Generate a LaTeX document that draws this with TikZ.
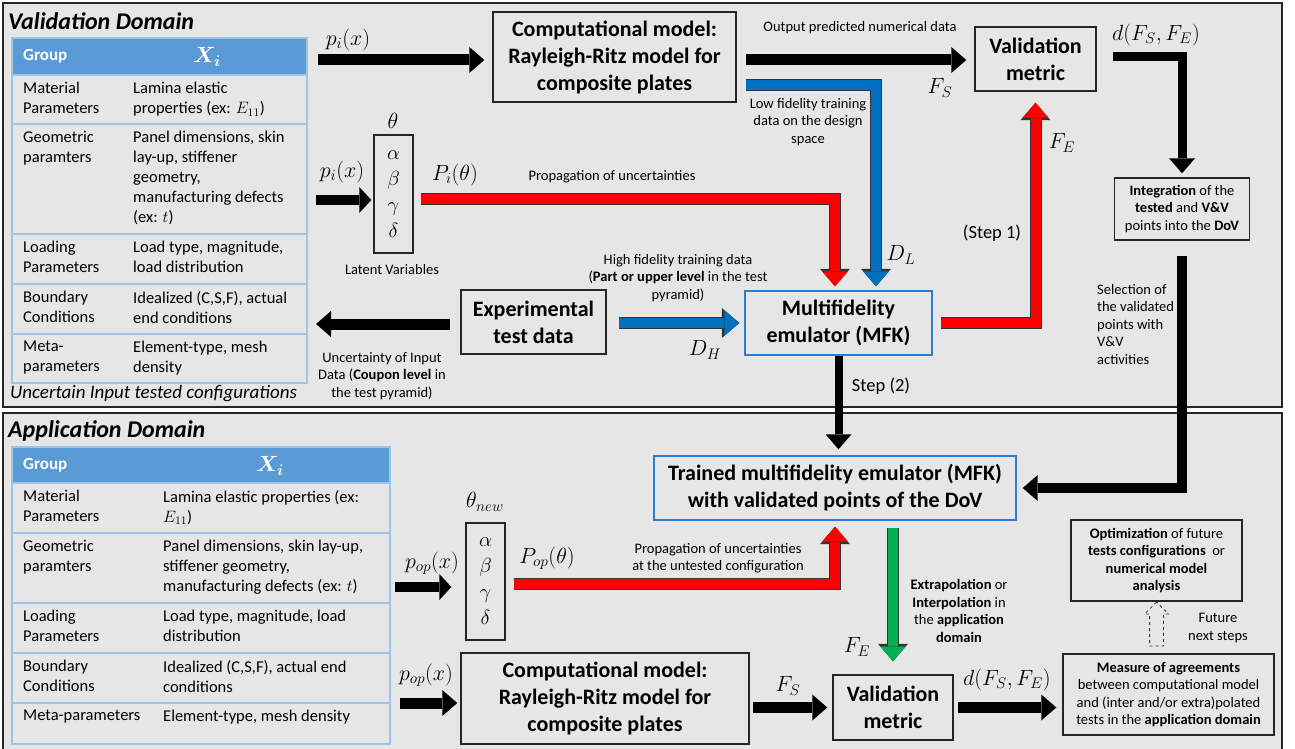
\RequirePackage{fix-cm}
\documentclass[tikz,border=0pt]{standalone}
\usepackage{fontspec}
\setmainfont{Carlito}
\usepackage{amsmath,amssymb}
\usepackage{tikz}
\usetikzlibrary{positioning,arrows.meta,shapes.arrows,calc}
\definecolor{panel}{HTML}{E7E6E6}
\definecolor{hdrblue}{HTML}{5B9BD5}
\definecolor{gridblue}{HTML}{9DC3E6}
\definecolor{boxblue}{HTML}{2E7DD1}
\definecolor{flowblue}{HTML}{0070C0}
\definecolor{flowred}{HTML}{FF0000}
\definecolor{flowgreen}{HTML}{00B050}
\tikzset{
  frm/.style={draw=black!85,line width=1.6pt,fill=panel},
  box/.style={rectangle,draw=black!85,line width=1.4pt,align=center,inner sep=2pt},
  boxb/.style={box,draw=boxblue},
  ttl/.style={font=\fontsize{22}{27}\selectfont\bfseries},
  dom/.style={anchor=west,inner sep=0pt,font=\fontsize{24}{28}\selectfont\bfseries\itshape},
  note/.style={font=\fontsize{14.5}{17.5}\selectfont,align=center,inner sep=0pt},
  cell/.style={anchor=north west,inner sep=0pt,align=left,font=\fontsize{16.5}{20}\selectfont},
  hdr/.style={inner sep=0pt,text=white,font=\fontsize{17}{20}\selectfont\bfseries},
  mth/.style={font=\fontsize{22}{24}\selectfont,inner sep=0pt},
  greek/.style={box,font=\fontsize{20.5}{26}\selectfont,minimum width=39pt},
  tbl/.style={draw=gridblue,line width=1.1pt},
  fat/.style={line width=11pt,-{Triangle[length=15pt,width=26pt,line width=0pt]}},
  fatc/.style={line width=10pt,draw=#1,-{Triangle[length=15pt,width=26pt,line width=0pt]},
    preaction={draw=black!80,line width=12pt,-{Triangle[length=17.5pt,width=30pt,line width=0pt]}}},
  hollow/.style={single arrow,draw=black!80,dashed,line width=0.8pt,shape border rotate=90,
    inner sep=6.5pt,single arrow head extend=5pt},
}

\begin{document}
\begin{tikzpicture}[x=1pt,y=-1pt]
  \useasboundingbox[fill=white] (0,0) rectangle (1295,749);
  % the two domains
  \draw[frm] (3,3) rectangle (1282,407);
  \draw[frm] (3,413) rectangle (1282,752);
  \node[dom] (valdom) at (8,21) {Validation Domain};
  \node[dom] (appdom) at (8,431) {Application Domain};

  % ---- validation table
  \fill[hdrblue] (12,38) rectangle (307,75);
  \draw[tbl] (12,38) rectangle (307,383);
  \foreach \y in {75,124,234,284,334} \draw[tbl] (12,\y) -- (307,\y);
  \node[hdr,anchor=west] (grpa) at (23,56) {Group};
  \node[hdr,font=\fontsize{22}{22}\selectfont] (xia) at (207,57) {$\boldsymbol{X_i}$};
  \foreach \y/\ga/\gb [count=\k] in {
      75/{Material\\Parameters}/{Lamina elastic\\properties (ex: $E_{11}$)},
      124/{Geometric\\paramters}/{Panel dimensions, skin\\lay-up, stiffener\\geometry,\\manufacturing defects\\(ex: $t$)},
      234/{Loading\\Parameters}/{Load type, magnitude,\\load distribution},
      284/{Boundary\\Conditions}/{Idealized (C,S,F), actual\\end conditions},
      334/{Meta-\\parameters}/{Element-type, mesh\\density}} {
    \node[cell] (ga\k) at (23,\y+7) {\ga};
    \node[cell] (gb\k) at (133,\y+7) {\gb};
  }
  \node[anchor=west,inner sep=0pt,font=\fontsize{19}{22}\selectfont\itshape] (unc) at (10,394)
    {Uncertain Input tested configurations};

  % ---- validation flow
  \node[box,ttl,minimum width=243pt,minimum height=90pt] (cmtop) at (614.5,57)
    {Computational model:\\Rayleigh-Ritz model for\\composite plates};
  \node[box,ttl,minimum width=121pt,minimum height=64pt] (vmtop) at (1035.5,59) {Validation\\metric};
  \node[greek,minimum height=118pt] (thtop) at (393.5,194) {$\alpha$\\$\beta$\\$\gamma$\\$\delta$};
  \node[boxb,ttl,minimum width=187pt,minimum height=64pt] (mfk) at (838.5,323)
    {Multifidelity\\emulator (MFK)};
  \node[box,ttl,minimum width=145pt,minimum height=64pt] (exp) at (533.5,322)
    {Experimental\\test data};
  \node[box,note,inner sep=2pt,minimum width=135pt,minimum height=62pt] (integ) at (1182,209)
    {\textbf{Integration} of the\\\textbf{tested} and \textbf{V\&V}\\points into the \textbf{DoV}};

  \node[mth] (pia) at (348,40) {$p_i(x)$};
  \node[mth] (pib) at (342,172) {$p_i(x)$};
  \node[mth] (th) at (393,121) {$\theta$};
  \node[mth] (Pi) at (455,175) {$P_i(\theta)$};
  \node[mth] (fsa) at (940,88) {$F_S$};
  \node[mth] (dl) at (901,255) {$D_L$};
  \node[mth] (dh) at (705,350) {$D_H$};
  \node[mth] (fea) at (1062,143) {$F_E$};
  \node[mth] (dfa) at (1156,35) {$d(F_S,F_E)$};
  \node[note] (outp) at (860,28) {Output predicted numerical data};
  \node[note] (lowf) at (808,122) {Low fidelity training\\data on the design\\space};
  \node[note] (propa) at (612,177) {Propagation of uncertainties};
  \node[note] (latv) at (392,270) {Latent Variables};
  \node[note] (highf) at (678,278) {High fidelity training data\\(\textbf{Part or upper level} in the test\\pyramid)};
  \node[note] (uncd) at (382,376) {Uncertainty of Input\\Data (\textbf{Coupon level} in\\the test pyramid)};
  \node[note,font=\fontsize{18.5}{20}\selectfont] (st1) at (992,233) {(Step 1)};
  \node[note,font=\fontsize{18.5}{20}\selectfont] (st2) at (881,386) {Step (2)};
  \node[note,align=left,anchor=north west] (selv) at (1097,284)
    {Selection of\\the validated\\points with\\V\&V\\activities};

  \coordinate (pin) at (318,60);
  \draw[fat,shorten >=8pt] (pin) -- (pin -| cmtop.west);
  \draw[fat,shorten <=9pt,shorten >=8pt] (cmtop.east |- pin) -- (pin -| vmtop.west);
  \coordinate (lfk) at (876,85);
  \draw[fatc=flowblue,shorten <=9pt,shorten >=4pt] (cmtop.east |- lfk) -| (mfk.north -| lfk);
  \coordinate (ptk) at (835,199);
  \draw[fatc=flowred,shorten <=7pt,shorten >=4pt] (thtop.east |- ptk) -| (mfk.north -| ptk);
  \coordinate (pin2) at (316,200);
  \draw[fat,line width=10pt,-{Triangle[length=12pt,width=26pt,line width=0pt]},shorten >=2pt]
    (pin2) -- (pin2 -| thtop.west);
  \coordinate (uout) at (316,324);
  \draw[fat,shorten <=10pt] (exp.west |- uout) -- (uout);
  \draw[fatc=flowblue,shorten <=12pt,shorten >=5pt] (exp.east |- mfk) -- (mfk.west);
  \draw[fatc=flowred,shorten <=8pt,shorten >=11pt] (mfk.east) -| (vmtop.south);
  \coordinate (dk) at (1182,57);
  \draw[fat,line width=9pt,shorten <=16pt,shorten >=4pt] (vmtop.east |- dk) -| (integ.north);

  % ---- application table
  \fill[hdrblue] (12,447) rectangle (390,483);
  \draw[tbl] (12,447) rectangle (390,744);
  \foreach \y in {483,533,603,653,703} \draw[tbl] (12,\y) -- (390,\y);
  \node[hdr,anchor=west] (grpb) at (23,465) {Group};
  \node[hdr,font=\fontsize{22}{22}\selectfont] (xib) at (270,466) {$\boldsymbol{X_i}$};
  \foreach \y/\ga/\gb [count=\k] in {
      483/{Material\\Parameters}/{Lamina elastic properties (ex:\\$E_{11}$)},
      533/{Geometric\\paramters}/{Panel dimensions, skin lay-up,\\stiffener geometry,\\manufacturing defects (ex: $t$)},
      603/{Loading\\Parameters}/{Load type, magnitude, load\\distribution},
      653/{Boundary\\Conditions}/{Idealized (C,S,F), actual end\\conditions},
      703/{Meta-parameters}/{Element-type, mesh density}} {
    \node[cell] (gc\k) at (23,\y+7) {\ga};
    \node[cell] (gd\k) at (163,\y+7) {\gb};
  }

  % ---- application flow
  \node[boxb,ttl,minimum width=362pt,minimum height=64pt] (trained) at (835,488)
    {Trained multifidelity emulator (MFK)\\with validated points of the DoV};
  \node[greek,minimum height=117pt] (thbot) at (485.5,581.5) {$\alpha$\\$\beta$\\$\gamma$\\$\delta$};
  \node[box,ttl,minimum width=288pt,minimum height=91pt] (cmbot) at (605,698.5)
    {Computational model:\\Rayleigh-Ritz model for\\composite plates};
  \node[box,ttl,minimum width=120pt,minimum height=65pt] (vmbot) at (893,707.5) {Validation\\metric};
  \node[box,note,inner sep=2pt,minimum width=211pt,minimum height=81pt] (meas) at (1168.5,694.5)
    {\textbf{Measure of agreements}\\between computational model\\and (inter and/or extra)polated\\tests in the \textbf{application domain}};
  \node[box,note,inner sep=2pt,minimum width=171pt,minimum height=81pt] (optim) at (1156.5,560.5)
    {\textbf{Optimization} of future\\\textbf{tests configurations}~ or\\\textbf{numerical model}\\\textbf{analysis}};

  \node[mth] (thn) at (485,502) {$\theta_{new}$};
  \node[mth] (popa) at (432,563) {$p_{op}(x)$};
  \node[mth] (popb) at (426,675) {$p_{op}(x)$};
  \node[mth] (Pop) at (547,558) {$P_{op}(\theta)$};
  \node[mth] (fsb) at (788,686) {$F_S$};
  \node[mth] (feb) at (857,647) {$F_E$};
  \node[mth] (dfb) at (1007,680) {$d(F_S,F_E)$};
  \node[note] (propb) at (718,558) {Propagation of uncertainties\\at the untested configuration};
  \node[note] (extr) at (959,611) {\textbf{Extrapolation} or\\\textbf{Interpolation} in\\the \textbf{application}\\\textbf{domain}};
  \node[note] (futr) at (1218,628) {Future\\next steps};

  \draw[fat,line width=10pt,shorten <=15pt,shorten >=6pt] (integ.south) |- (trained.east);
  \draw[fat,line width=8pt,shorten >=6pt] (mfk.south) -- (mfk.south |- trained.north);
  \coordinate (pop1) at (395,587);
  \draw[fat,line width=10pt,-{Triangle[length=12pt,width=26pt,line width=0pt]},shorten >=14pt]
    (pop1) -- (pop1 -| thbot.west);
  \coordinate (prk) at (835,584);
  \draw[fatc=flowred,shorten <=8pt,shorten >=6pt] (thbot.east |- prk) -| (trained.south -| prk);
  \coordinate (pop2) at (400,703);
  \draw[fat,shorten >=3pt] (pop2) -- (pop2 -| cmbot.west);
  \draw[fat,shorten <=3pt,shorten >=5pt] (cmbot.east |- vmbot) -- (vmbot.west);
  \draw[fatc=flowgreen,shorten <=7pt,shorten >=13pt] (vmbot.north |- trained.south) -- (vmbot.north);
  \draw[fat,shorten <=4pt,shorten >=6pt] (vmbot.east) -- (vmbot.east -| meas.west);
  \node[hollow,minimum height=44pt] (fut) at ($(optim.south)!0.5!(optim.south |- meas.north)$) {};
\end{tikzpicture}
\end{document}
